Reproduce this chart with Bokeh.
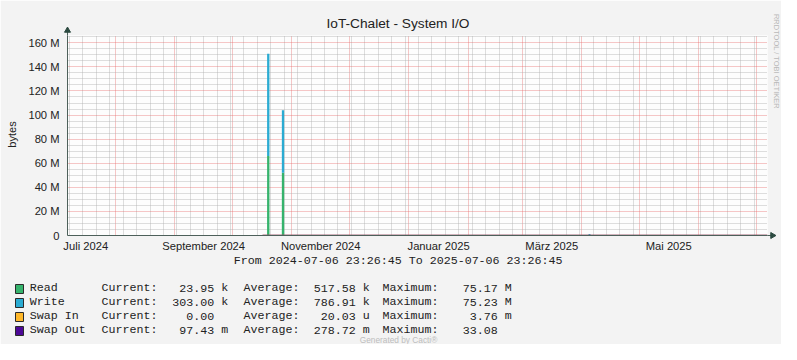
import math
import pandas as pd
from bokeh.plotting import figure
from bokeh.models import Range1d, FixedTicker, ColumnDataSource
from bokeh.core.properties import value
from bokeh.embed import file_html
from bokeh.resources import INLINE

# ---------------- data ----------------
TITLE = "IoT-Chalet - System I/O"
START = "2024-07-06 23:26:45"
END = "2025-07-06 23:26:45"
Y_LABEL = "bytes"

times = ["2024-10-16 16:00", "2024-10-19 01:00", "2024-10-19 01:30", "2024-10-20 06:30",
         "2024-10-20 07:00", "2024-10-26 17:30", "2024-10-26 18:00", "2024-10-27 23:00",
         "2024-10-27 23:30", "2025-04-04 15:30", "2025-04-04 16:00", "2025-04-05 16:00",
         "2025-04-05 16:30", "2025-07-06 23:26:45"]
read_bytes = [0.03e6, 0.03e6, 66e6, 66e6, 0.03e6, 0.03e6, 52e6, 52e6,
              0.03e6, 0.03e6, 0.1e6, 0.1e6, 0.03e6, 0.024e6]
write_bytes = [0.3e6, 0.3e6, 85e6, 85e6, 0.3e6, 0.3e6, 52e6, 52e6,
               0.3e6, 0.3e6, 1.2e6, 1.2e6, 0.3e6, 0.303e6]
swap_in = [0, 0, 0, 0, 0, 0, 0, 0, 0, 0, 0, 0, 0, 0]
swap_out = [0.1, 0.1, 0.3, 0.3, 0.1, 0.1, 0.3, 0.3, 0.1, 0.1, 0.2, 0.2, 0.1, 0.097]

y_ticks = [0, 20e6, 40e6, 60e6, 80e6, 100e6, 120e6, 140e6, 160e6]
y_tick_labels = ["0", "20 M", "40 M", "60 M", "80 M", "100 M", "120 M", "140 M", "160 M"]
x_label_months = ["2024-07-01", "2024-09-01", "2024-11-01", "2025-01-01", "2025-03-01", "2025-05-01"]
x_tick_labels = ["Juli 2024", "September 2024", "November 2024", "Januar 2025", "März 2025", "Mai 2025"]

series_names = ["Read", "Write", "Swap In", "Swap Out"]
series_colors = ["#35b36c", "#2aabd2", "#ffb82a", "#4c0896"]
cur_vals = [23.95, 303.00, 0.00, 97.43]
cur_units = ["k", "k", "", "m"]
avg_vals = [517.58, 786.91, 20.03, 278.72]
avg_units = ["k", "k", "u", "m"]
max_vals = [75.17, 75.23, 3.76, 33.08]
max_units = ["M", "M", "m", ""]

Y_MAX = 166.05e6

# ---------------- helpers ----------------
def ms(ts):
    return int(pd.Timestamp(ts).value // 10**6)

W, H = 781, 344
FL, FT, FW, FH = 67, 35, 700, 200  # frame in canvas px
x0 = ms(START)
x1 = ms(END)
def cx(c):
    return x0 + (c - FL) * (x1 - x0) / FW
def cy(c):
    return (FT + FH - c) * Y_MAX / FH

t = [pd.Timestamp(s) for s in times]
stack_top = [r + w for r, w in zip(read_bytes, write_bytes)]
src = ColumnDataSource(dict(t=t, read=read_bytes, top=stack_top,
                            zero=[0] * len(t), sin=swap_in, sout=swap_out))

AXIS = "#4d605a"
ARROW = "#2c4a40"

p = figure(width=W, height=H, output_backend="svg", toolbar_location=None,
           x_axis_type="datetime", title=None,
           x_range=Range1d(x0, x1), y_range=Range1d(0, Y_MAX),
           min_border_left=FL, min_border_top=FT, min_border_right=W - FL - FW,
           min_border_bottom=H - FT - FH)
p.background_fill_color = "#fdfdfd"
p.border_fill_color = "#f3f3f3"
p.outline_line_color = None

# grids
month_starts = pd.date_range("2024-08-01", "2025-07-01", freq="MS")
mondays = [d for d in pd.date_range("2024-07-08", "2025-07-06", freq="W-MON") if d.day != 1]
p.xgrid.ticker = FixedTicker(ticks=[ms(d) for d in month_starts],
                             minor_ticks=[ms(d) for d in mondays])
minor_y = [v * 1e6 for v in range(0, 170, 5) if v % 20 != 0]
p.ygrid.ticker = FixedTicker(ticks=y_ticks[1:], minor_ticks=minor_y)
for g in (p.xgrid, p.ygrid):
    g.grid_line_color = "#e66a6a"
    g.grid_line_alpha = 0.75
    g.grid_line_dash = "1 1"
    g.grid_line_width = 1
    g.minor_grid_line_color = "#b0b0b0"
    g.minor_grid_line_alpha = 0.85
    g.minor_grid_line_dash = "1 1"
    g.minor_grid_line_width = 1

# data
p.varea(x="t", y1="zero", y2="read", source=src, fill_color=series_colors[0])
p.varea(x="t", y1="read", y2="top", source=src, fill_color=series_colors[1])
p.line(x="t", y="sin", source=src, line_color=series_colors[2], line_width=1.5)
p.line(x="t", y="sout", source=src, line_color=series_colors[3], line_width=1.5)

# axes
mid_ticks = []
for m in x_label_months:
    a = pd.Timestamp(m)
    b = a + pd.offsets.MonthBegin(1)
    mid_ticks.append(ms(a + (b - a) / 2))
p.xaxis.ticker = FixedTicker(ticks=mid_ticks, minor_ticks=[])
p.xaxis.major_label_overrides = {k: v for k, v in zip(mid_ticks, x_tick_labels)}
p.yaxis.ticker = FixedTicker(ticks=y_ticks, minor_ticks=[])
p.yaxis.major_label_overrides = {int(k): v for k, v in zip(y_ticks, y_tick_labels)}
for ax in (p.xaxis, p.yaxis):
    ax.axis_line_color = AXIS
    ax.axis_line_width = 1
    ax.major_tick_line_color = None
    ax.minor_tick_line_color = None
    ax.major_tick_out = 0
    ax.major_tick_in = 0
    ax.major_label_text_font = "Liberation Sans"
    ax.major_label_text_font_size = "11.2px"
    ax.major_label_text_color = "#222222"
p.xaxis.major_label_standoff = 4
p.yaxis.major_label_standoff = 8

# decorations drawn outside the frame (overlay level => not clipped)
def over(r):
    r.level = "overlay"
    return r

over(p.segment(x0=[cx(FL)], y0=[cy(FT)], x1=[cx(FL)], y1=[cy(FT - 4)], line_color=AXIS, line_width=1))
over(p.segment(x0=[cx(FL + FW)], y0=[0], x1=[cx(FL + FW + 4)], y1=[0], line_color=AXIS, line_width=1))
over(p.scatter(x=[cx(FL)], y=[cy(FT - 5)], marker="triangle", size=6,
               fill_color=ARROW, line_color=ARROW))
over(p.scatter(x=[cx(FL + FW + 5)], y=[0], marker="triangle", size=6, angle=-math.pi / 2,
               fill_color=ARROW, line_color=ARROW))

def lab(x, y, text, size, font="Liberation Sans", color="#222222", align="left", angle=0.0):
    over(p.text(x=[cx(x)], y=[cy(y)], text=[text], text_font=value(font),
                text_font_size=value(size), text_color=color, text_align=align,
                text_baseline="middle", angle=angle))

lab(397.5, 22.5, TITLE, "13.7px", align="center")
lab(11, 134, Y_LABEL, "11px", align="center", angle=math.pi / 2)
lab(776, 61, "RRDTOOL / TOBI OETIKER", "7.5px", color="#b8b8b8", align="center", angle=-math.pi / 2)
MONO = "Liberation Mono"
MS = "11.67px"
ROW0 = 287.5
lab(233.3, 260.5, "From %s To %s" % (START, END), MS, font=MONO)
for i in range(4):
    y = ROW0 + 14 * i
    over(p.quad(left=[cx(15)], right=[cx(23)], top=[cy(y - 3.5)], bottom=[cy(y + 5.5)],
                fill_color=series_colors[i], line_color="#2a2a2a", line_width=1))
    lab(29.3, y, series_names[i], MS, font=MONO)
    lab(101, y, "Current:", MS, font=MONO)
    lab(213.7, y, "%.2f" % cur_vals[i], MS, font=MONO, align="right")
    lab(220.7, y, cur_units[i], MS, font=MONO)
    lab(243, y, "Average:", MS, font=MONO)
    lab(355.3, y, "%.2f" % avg_vals[i], MS, font=MONO, align="right")
    lab(362.3, y, avg_units[i], MS, font=MONO)
    lab(382, y, "Maximum:", MS, font=MONO)
    lab(497.3, y, "%.2f" % max_vals[i], MS, font=MONO, align="right")
    lab(504.3, y, max_units[i], MS, font=MONO)
lab(398, 339.5, "Generated by Cacti®", "8.3px", color="#bdbdbd", align="center")

open("out.html", "w").write(file_html(p, INLINE))
